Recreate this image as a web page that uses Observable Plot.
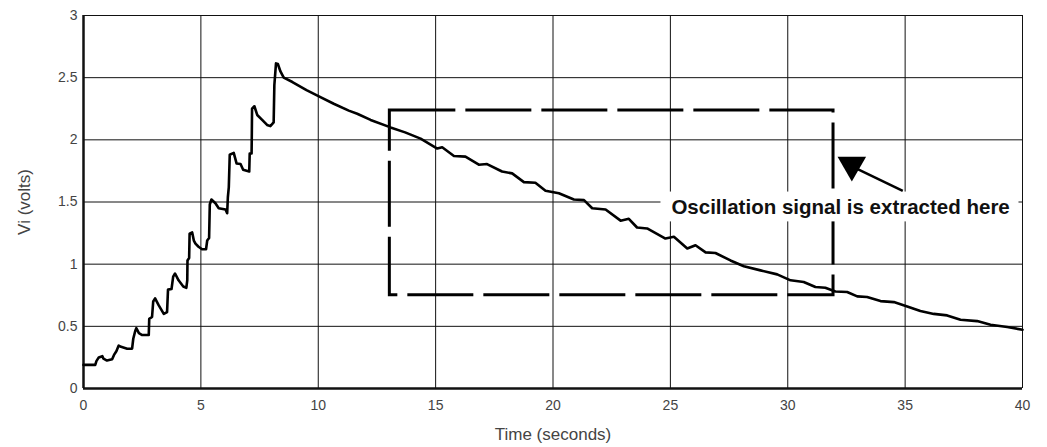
<!DOCTYPE html>
<html>
<head>
<meta charset="utf-8">
<script src="https://cdn.jsdelivr.net/npm/d3@7"></script>
<script src="https://cdn.jsdelivr.net/npm/@observablehq/plot@0.6"></script>
<style>
  html, body { margin: 0; padding: 0; background: #fff; }
  #chart { width: 1047px; height: 447px; }
</style>
</head>
<body>
<div id="chart"></div>
<script>
// ---- Data ----
const timeSec = [
  0, 0.5, 0.55, 0.65, 0.8, 0.85, 1.0, 1.22, 1.3, 1.4, 1.5, 1.6, 1.86, 2.07, 2.12, 2.2, 2.25, 2.36, 2.5, 2.78,
  2.8, 2.92, 2.97, 3.05, 3.2, 3.42, 3.56, 3.6, 3.75, 3.82, 3.9, 4.05, 4.25, 4.38, 4.42, 4.43, 4.5, 4.52, 4.63, 4.7,
  4.77, 4.9, 5.05, 5.22, 5.27, 5.35, 5.37, 5.38, 5.45, 5.62, 5.76, 6.05, 6.12, 6.15, 6.19, 6.23, 6.4, 6.52, 6.69, 6.8,
  7.06, 7.08, 7.16, 7.17, 7.18, 7.28, 7.4, 7.61, 7.82, 7.96, 8.1, 8.13, 8.2, 8.28, 8.39, 8.53, 8.9, 9.5, 10.05, 10.66,
  11.3, 11.66, 12.23, 13.08, 13.7, 14.36, 15.07, 15.28, 15.78, 16.27, 16.84, 17.19, 17.83, 18.26, 18.76, 19.25, 19.68, 20.25, 20.89, 21.32,
  21.67, 22.24, 22.88, 23.23, 23.58, 24.01, 24.79, 25.15, 25.72, 26.07, 26.5, 26.92, 27.56, 28.13, 28.84, 29.55, 30.12, 30.68, 31.18, 31.6,
  32.03, 32.53, 32.96, 33.38, 33.95, 34.52, 35.09, 35.65, 36.22, 36.79, 37.36, 38.07, 38.64, 39.35, 40
];
const volts = [
  0.19, 0.19, 0.22, 0.25, 0.26, 0.24, 0.225, 0.235, 0.27, 0.30, 0.345, 0.335, 0.32, 0.32, 0.40, 0.46, 0.485, 0.445, 0.43, 0.43,
  0.56, 0.575, 0.70, 0.725, 0.67, 0.60, 0.615, 0.795, 0.80, 0.90, 0.925, 0.87, 0.82, 0.81, 0.87, 1.03, 1.05, 1.245, 1.255, 1.19,
  1.165, 1.14, 1.12, 1.12, 1.19, 1.21, 1.39, 1.48, 1.52, 1.49, 1.45, 1.44, 1.41, 1.54, 1.62, 1.88, 1.895, 1.81, 1.805, 1.76,
  1.745, 1.89, 1.89, 2.05, 2.25, 2.27, 2.2, 2.16, 2.12, 2.11, 2.14, 2.44, 2.615, 2.61, 2.55, 2.50, 2.465, 2.40, 2.347, 2.29,
  2.235, 2.21, 2.16, 2.10, 2.06, 2.01, 1.93, 1.94, 1.87, 1.865, 1.80, 1.805, 1.745, 1.73, 1.66, 1.655, 1.59, 1.57, 1.52, 1.515,
  1.45, 1.44, 1.35, 1.365, 1.295, 1.287, 1.206, 1.22, 1.126, 1.152, 1.095, 1.09, 1.03, 0.983, 0.95, 0.918, 0.87, 0.857, 0.816, 0.81,
  0.78, 0.776, 0.741, 0.736, 0.703, 0.695, 0.66, 0.623, 0.60, 0.588, 0.553, 0.542, 0.513, 0.494, 0.473
];
const xTicks = [0, 5, 10, 15, 20, 25, 30, 35, 40];
const yTicks = [0, 0.5, 1, 1.5, 2, 2.5, 3];
const xLabel = "Time (seconds)";
const yLabel = "Vi (volts)";

// Annotation: dashed extraction window, arrow and callout text
const windowT = [13.05, 31.95];
const windowV = [0.75, 2.235];
const arrowFrom = [34.9, 1.59];
const arrowTo = [32.8, 1.78];
const arrowHead = [32.73, 1.797];
const calloutText = "Oscillation signal is extracted here";
const calloutPos = [32.25, 1.455];
const calloutBoxT = [24.6, 39.85];
const calloutBoxV = [1.34, 1.58];

// ---- Build ----
const series = timeSec.map((t, i) => ({t, v: volts[i]}));

const chart = Plot.plot({
  width: 1047,
  height: 447,
  marginLeft: 83,
  marginRight: 25,
  marginTop: 15,
  marginBottom: 59,
  style: {fontFamily: "'Liberation Sans', Arial, Helvetica, sans-serif", background: "#fff"},
  x: {domain: [0, 40]},
  y: {domain: [0, 3]},
  marks: [
    Plot.gridX(xTicks, {stroke: "#111", strokeOpacity: 1, strokeWidth: 1}),
    Plot.gridY(yTicks, {stroke: "#111", strokeOpacity: 1, strokeWidth: 1}),
    Plot.ruleX([0], {stroke: "#111", strokeWidth: 2.5}),
    Plot.ruleY([0], {stroke: "#111", strokeWidth: 2.5}),
    Plot.rect([{}], {
      x1: () => windowT[0], x2: () => windowT[1],
      y1: () => windowV[0], y2: () => windowV[1],
      fill: "none", stroke: "#000", strokeWidth: 3, strokeDasharray: "66,10"
    }),
    Plot.line(series, {x: "t", y: "v", stroke: "#000", strokeWidth: 2.6, strokeLinejoin: "round"}),
    Plot.rect([{}], {
      x1: () => calloutBoxT[0], x2: () => calloutBoxT[1],
      y1: () => calloutBoxV[0], y2: () => calloutBoxV[1],
      fill: "#fff", stroke: "none"
    }),
    Plot.text([calloutText], {
      x: () => calloutPos[0], y: () => calloutPos[1], text: d => d,
      fontSize: 20.5, fontWeight: "bold", fill: "#111", textAnchor: "middle"
    }),
    Plot.link([{}], {
      x1: () => arrowFrom[0], y1: () => arrowFrom[1],
      x2: () => arrowTo[0], y2: () => arrowTo[1],
      stroke: "#000", strokeWidth: 2.5
    }),
    Plot.dot([{}], {
      x: () => arrowHead[0], y: () => arrowHead[1],
      symbol: "triangle", r: 10.6, rotate: 180, fill: "#000", stroke: "none"
    }),
    Plot.axisX({
      ticks: xTicks, tickSize: 0, tickPadding: 12, fontSize: 14, color: "#444",
      tickFormat: d => String(d),
      label: xLabel, labelAnchor: "center", labelArrow: "none", labelOffset: 51
    }),
    Plot.axisY({
      ticks: yTicks, tickSize: 0, tickPadding: 6, fontSize: 14, color: "#444",
      tickFormat: d => String(d),
      label: yLabel, labelAnchor: "center", labelArrow: "none", labelOffset: 66
    })
  ]
});

// axis label font size
chart.querySelectorAll("g[aria-label='x-axis label'] text, g[aria-label='y-axis label'] text").forEach(t => {
  t.setAttribute("font-size", "17");
});
document.getElementById("chart").appendChild(chart);
</script>
</body>
</html>
